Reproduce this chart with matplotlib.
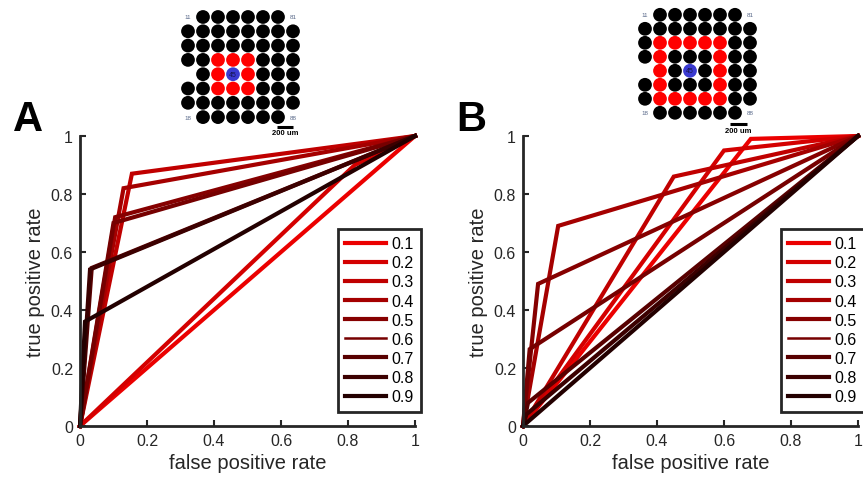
"""
ROC curves of channel detection for different thresholds, one panel per
electrode neighbourhood (A: first ring around electrode 45, B: second ring)
"""

import numpy as np
import matplotlib.pyplot as plt
from matplotlib.ticker import FormatStrFormatter

plt.rcParams['font.family'] = ['Liberation Sans', 'DejaVu Sans']

thresholds = ['0.1', '0.2', '0.3', '0.4', '0.5', '0.6', '0.7', '0.8', '0.9']
colors = ['#eb0000', '#d40000', '#c00000', '#a50000', '#860000',
          '#760000', '#580000', '#3c0000', '#230000']

# knee of each ROC curve (fpr, tpr); curves run (0,0) -> knee -> (1,1)
fpr_A = [0.50, 0.82, 0.155, 0.13, 0.105, 0.10, 0.035, 0.03, 0.015]
tpr_A = [0.50, 0.90, 0.87, 0.82, 0.72, 0.70, 0.545, 0.54, 0.36]

fpr_B = [0.68, 0.60, 0.45, 0.105, 0.045, 0.02, 0.015, 0.01, 0.50]
tpr_B = [0.99, 0.95, 0.86, 0.69, 0.49, 0.265, 0.08, 0.04, 0.50]

# 8x8 MEA: red = electrodes counted as neighbours of stimulated electrode 45
ring_A = [(3, 4), (4, 4), (5, 4), (3, 5), (5, 5), (3, 6), (4, 6), (5, 6)]
ring_B = [(c, 3) for c in range(2, 7)] + [(c, 7) for c in range(2, 7)] + \
         [(2, r) for r in range(4, 7)] + [(6, r) for r in range(4, 7)]

FIG_W, FIG_H = 863, 489


def px_axes(fig, x0, y0, x1, y1):
    # axes from pixel box (top-left origin)
    return fig.add_axes([x0 / FIG_W, 1 - y1 / FIG_H, (x1 - x0) / FIG_W, (y1 - y0) / FIG_H])


def plot_roc(ax, fpr, tpr, letter):
    for i, t in enumerate(thresholds):
        ax.plot([0, fpr[i], 1], [0, tpr[i], 1], color=colors[i], lw=3,
                label=t, solid_joinstyle='miter', clip_on=False)

    ax.set_xlim(0, 1)
    ax.set_ylim(0, 1)
    ax.set_xticks(np.arange(0, 1.01, 0.2))
    ax.set_yticks(np.arange(0, 1.01, 0.2))
    ax.xaxis.set_major_formatter(FormatStrFormatter('%g'))
    ax.yaxis.set_major_formatter(FormatStrFormatter('%g'))
    ax.tick_params(direction='in', length=4, width=1.5, labelsize=11.5,
                   color='#262626', labelcolor='#262626', pad=5)
    for side in ['top', 'right']:
        ax.spines[side].set_visible(False)
    for side in ['left', 'bottom']:
        ax.spines[side].set_linewidth(2)
        ax.spines[side].set_color('#262626')

    ax.set_xlabel('false positive rate', fontsize=14.5, color='#262626', labelpad=4)
    ax.set_ylabel('true positive rate', fontsize=14.5, color='#262626', labelpad=4)

    leg = ax.legend(loc='lower right', bbox_to_anchor=(1.017, 0.05), fontsize=11.5,
                    handlelength=2.6, labelspacing=0.26, borderpad=0.45,
                    handletextpad=0.3, borderaxespad=0, fancybox=False, framealpha=1)
    leg.get_frame().set_edgecolor('#262626')
    leg.get_frame().set_linewidth(2)
    leg.get_lines()[5].set_linewidth(1.8)

    ax.text(-0.155, 0.99, letter, transform=ax.transAxes, fontsize=30,
            fontweight='heavy', ha='center', va='bottom')


def plot_mea(ax, ring, bar_x, bar_y, txt_y):
    for c in range(1, 9):
        for r in range(1, 9):
            if (c, r) in [(1, 1), (8, 1), (1, 8), (8, 8), (1, 5)]:
                continue
            if (c, r) == (4, 5):
                col = '#3a3ad0'
            elif (c, r) in ring:
                col = '#ff0000'
            else:
                col = 'black'
            ax.scatter(c, r, s=98, color=col, edgecolors='none')

    for c, r in [(1, 1), (8, 1), (1, 8), (8, 8)]:
        ax.text(c, r, f'{c}{r}', fontsize=4.5, color='#5a6a8a', ha='center', va='center')
    ax.text(4, 5, '45', fontsize=5, color='#15154a', ha='center', va='center')

    ax.plot(bar_x, [bar_y, bar_y], color='black', lw=2.2, solid_capstyle='butt')
    ax.text(np.mean(bar_x), txt_y, '200 um', fontsize=5.5, fontweight='bold',
            ha='center', va='center')
    ax.set_xlim(0.5, 9.5)
    ax.set_ylim(9.6, 0.4)
    ax.axis('off')


fig = plt.figure(figsize=(FIG_W / 100, FIG_H / 100), dpi=100)

ax_A = px_axes(fig, 80, 137, 415, 427)
ax_B = px_axes(fig, 523, 137, 858, 427)
plot_roc(ax_A, fpr_A, tpr_A, 'A')
plot_roc(ax_B, fpr_B, tpr_B, 'B')

ins_A = px_axes(fig, 180.5, 9.4, 315.5, 141)
plot_mea(ins_A, ring_A, [6.93, 8.0], 8.69, 9.1)

ins_B = px_axes(fig, 637.5, 7.4, 772.5, 136.2)
plot_mea(ins_B, ring_B, [6.67, 7.8], 8.79, 9.3)

fig.savefig('out.png', dpi=100)
